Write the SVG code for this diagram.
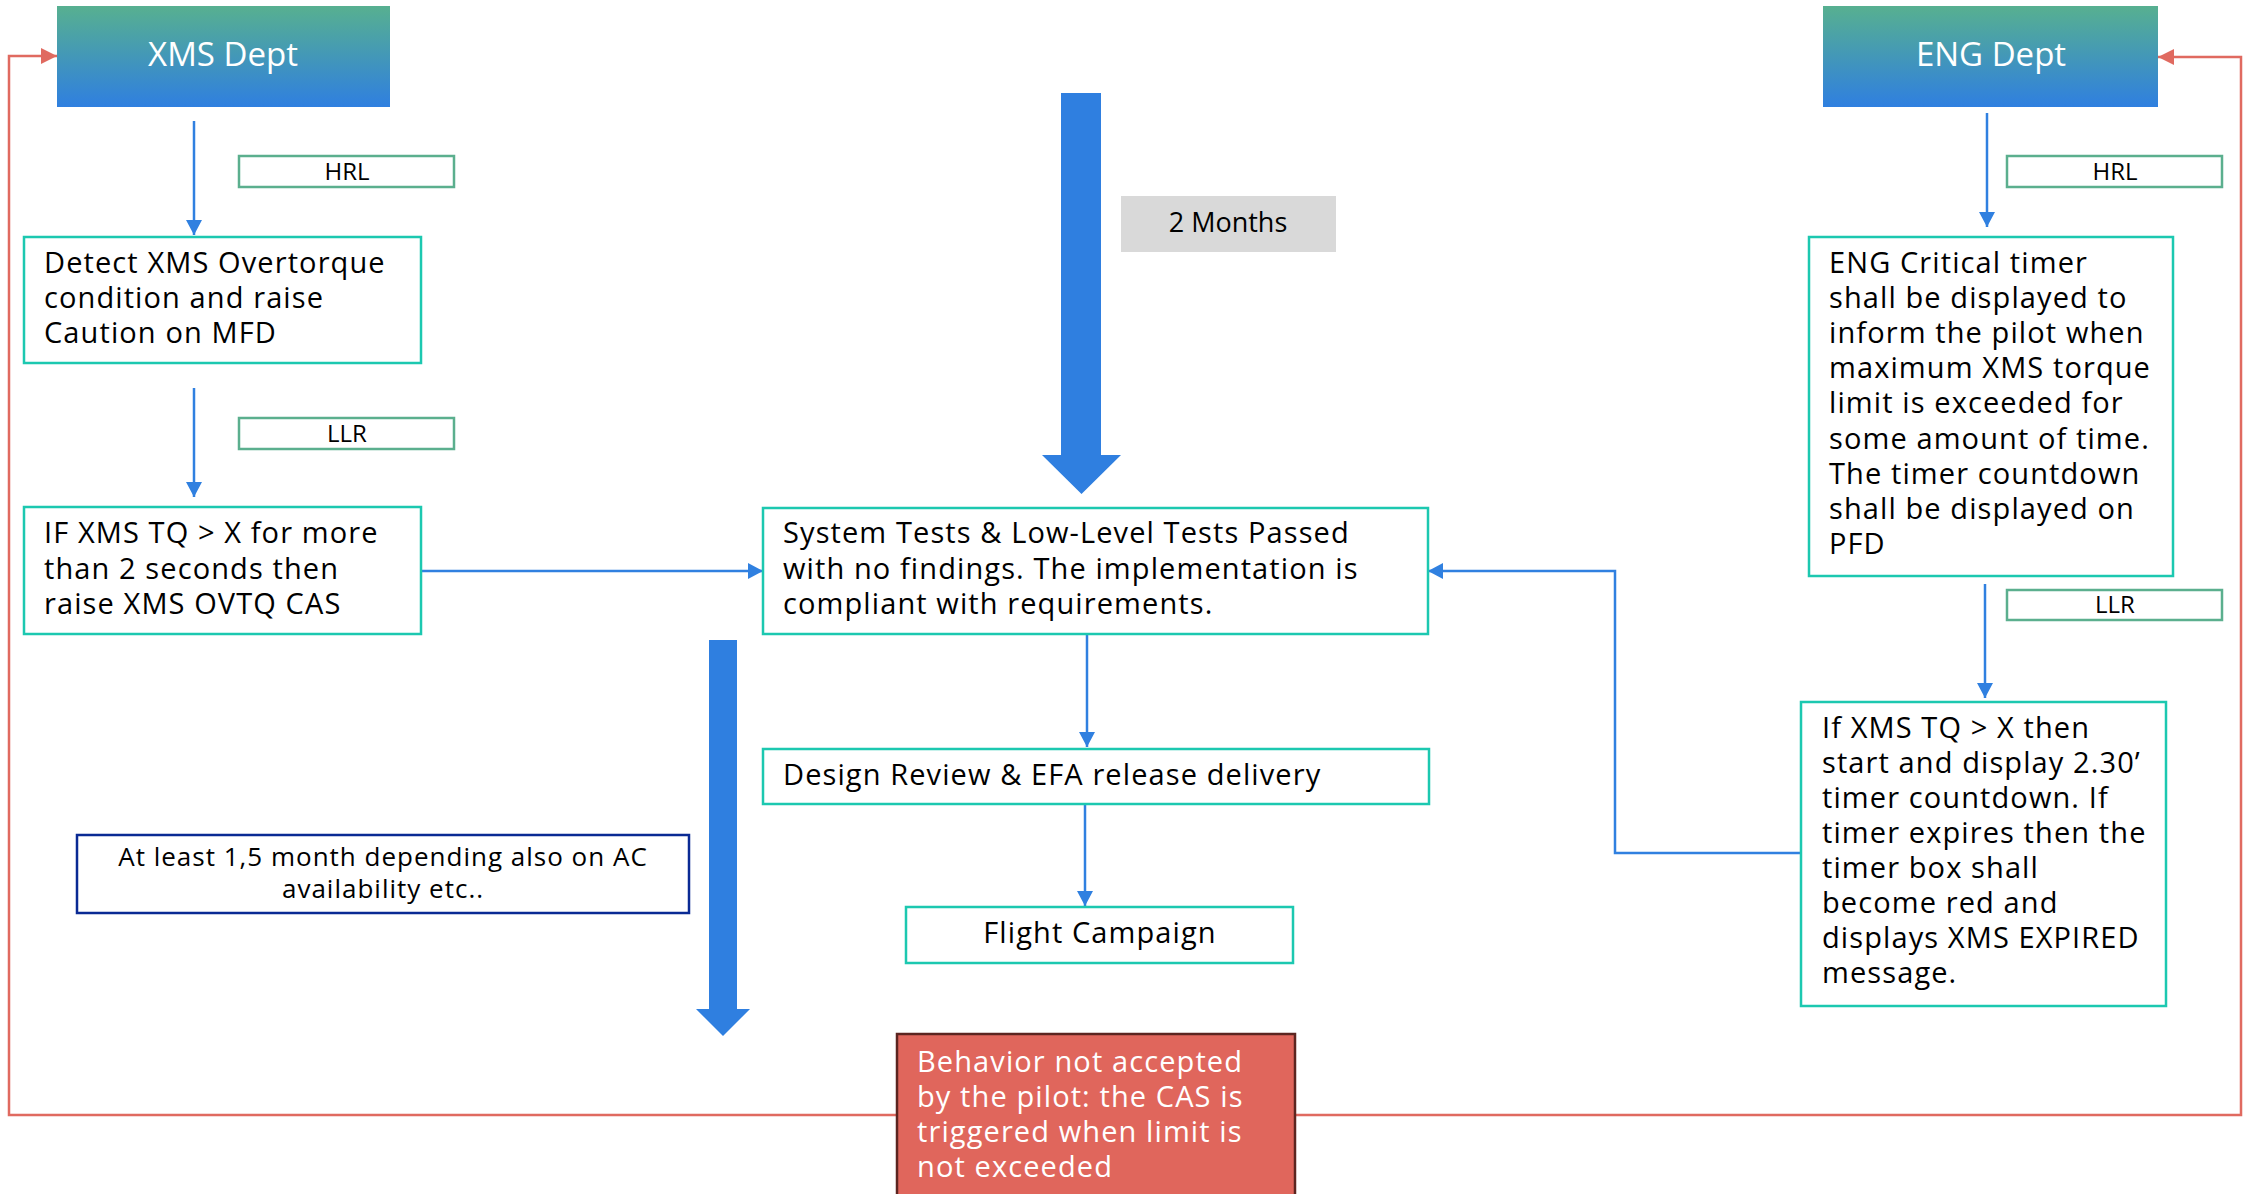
<svg xmlns="http://www.w3.org/2000/svg" width="2249" height="1194" viewBox="0 0 2249 1194">
<style>
.t{font-family:"Open Sans","Liberation Sans",sans-serif;font-size:29px;letter-spacing:1.1px;fill:#000}
.w{fill:#fff}
.c{text-anchor:middle}
.lab{font-size:24px;letter-spacing:0}
.note{font-size:26px;letter-spacing:1px}
.mo{font-size:27px;letter-spacing:0}
.hd{font-size:33px;letter-spacing:0}
.box{fill:#fff;stroke:#1CC8B0;stroke-width:2.5}
.tag{fill:#fff;stroke:#5BAF8E;stroke-width:2.5}
.blue{fill:none;stroke:#3080E0;stroke-width:2.5}
.red{fill:none;stroke:#E06A60;stroke-width:2.5}
</style>
<defs>
<linearGradient id="dept" x1="0" y1="0" x2="0" y2="1">
<stop offset="0" stop-color="#57B090"/>
<stop offset="1" stop-color="#2F7FE0"/>
</linearGradient>
<marker id="ab" markerUnits="userSpaceOnUse" markerWidth="16" markerHeight="16" refX="15" refY="8" orient="auto">
<path d="M0,0 L15,8 L0,16 Z" fill="#3080E0"/>
</marker>
<marker id="ar" markerUnits="userSpaceOnUse" markerWidth="17" markerHeight="16" refX="16" refY="8" orient="auto">
<path d="M0,0 L16,8 L0,16 Z" fill="#E06A60"/>
</marker>
</defs>
<rect width="2249" height="1194" fill="#fff"/>

<g id="connectors">
<path class="red" d="M897,1115 H9 V56 H57" marker-end="url(#ar)"/>
<path class="red" d="M1295,1115 H2241 V57 H2158" marker-end="url(#ar)"/>
<path class="blue" d="M194,121 V235" marker-end="url(#ab)"/>
<path class="blue" d="M194,388 V497" marker-end="url(#ab)"/>
<path class="blue" d="M421,571 H763" marker-end="url(#ab)"/>
<path class="blue" d="M1087,634 V747" marker-end="url(#ab)"/>
<path class="blue" d="M1085,804 V906" marker-end="url(#ab)"/>
<path class="blue" d="M1987,113 V227" marker-end="url(#ab)"/>
<path class="blue" d="M1985,584 V698" marker-end="url(#ab)"/>
<path class="blue" d="M1801,853 H1615 V571 H1428" marker-end="url(#ab)"/>
<path d="M1061,93 H1101 V455 H1121 L1081.5,494 L1042,455 H1061 Z" fill="#2F7FE0"/>
<path d="M709,640 H737 V1009 H750 L723,1036 L696,1009 H709 Z" fill="#2F7FE0"/>
</g>

<g id="xms-dept">
<rect x="57" y="6" width="333" height="101" fill="url(#dept)"/>
<text class="t w c hd" x="223" y="66">XMS Dept</text>
</g>
<g id="eng-dept">
<rect x="1823" y="6" width="335" height="101" fill="url(#dept)"/>
<text class="t w c hd" x="1991" y="66">ENG Dept</text>
</g>

<g id="hrl-left">
<rect class="tag" x="239" y="156" width="215" height="31"/>
<text class="t c lab" x="347" y="180">HRL</text>
</g>
<g id="llr-left">
<rect class="tag" x="239" y="418" width="215" height="31"/>
<text class="t c lab" x="347" y="442">LLR</text>
</g>
<g id="hrl-right">
<rect class="tag" x="2007" y="156" width="215" height="31"/>
<text class="t c lab" x="2115" y="180">HRL</text>
</g>
<g id="llr-right">
<rect class="tag" x="2007" y="590" width="215" height="30"/>
<text class="t c lab" x="2115" y="613">LLR</text>
</g>

<g id="detect">
<rect class="box" x="24" y="237" width="397" height="126"/>
<text class="t" x="44" y="273">Detect XMS Overtorque</text>
<text class="t" x="44" y="308">condition and raise</text>
<text class="t" x="44" y="343">Caution on MFD</text>
</g>

<g id="if-xms-cas">
<rect class="box" x="24" y="507" width="397" height="127"/>
<text class="t" x="44" y="543">IF XMS TQ &gt; X for more</text>
<text class="t" x="44" y="579">than 2 seconds then</text>
<text class="t" x="44" y="614">raise XMS OVTQ CAS</text>
</g>

<g id="two-months">
<rect x="1121" y="196" width="215" height="56" fill="#D9D9D9"/>
<text class="t c mo" x="1228" y="232">2 Months</text>
</g>

<g id="system-tests">
<rect class="box" x="763" y="508" width="665" height="126"/>
<text class="t" x="783" y="543">System Tests &amp; Low-Level Tests Passed</text>
<text class="t" x="783" y="579">with no findings. The implementation is</text>
<text class="t" x="783" y="614">compliant with requirements.</text>
</g>

<g id="design-review">
<rect class="box" x="763" y="749" width="666" height="55"/>
<text class="t" x="783" y="785">Design Review &amp; EFA release delivery</text>
</g>

<g id="flight-campaign">
<rect class="box" x="906" y="907" width="387" height="56"/>
<text class="t c" x="1100" y="943">Flight Campaign</text>
</g>

<g id="at-least">
<rect x="77" y="835" width="612" height="78" fill="#fff" stroke="#0A2A94" stroke-width="2.5"/>
<text class="t c note" x="383" y="866">At least 1,5 month depending also on AC</text>
<text class="t c note" x="383" y="898">availability etc..</text>
</g>

<g id="not-accepted">
<rect x="897" y="1034" width="398" height="175" fill="#E0665C" stroke="#5C2520" stroke-width="2.5"/>
<text class="t w" x="917" y="1072">Behavior not accepted</text>
<text class="t w" x="917" y="1107">by the pilot: the CAS is</text>
<text class="t w" x="917" y="1142">triggered when limit is</text>
<text class="t w" x="917" y="1177">not exceeded</text>
</g>

<g id="eng-critical">
<rect class="box" x="1809" y="237" width="364" height="339"/>
<text class="t" x="1829" y="273">ENG Critical timer</text>
<text class="t" x="1829" y="308">shall be displayed to</text>
<text class="t" x="1829" y="343">inform the pilot when</text>
<text class="t" x="1829" y="378">maximum XMS torque</text>
<text class="t" x="1829" y="413">limit is exceeded for</text>
<text class="t" x="1829" y="449">some amount of time.</text>
<text class="t" x="1829" y="484">The timer countdown</text>
<text class="t" x="1829" y="519">shall be displayed on</text>
<text class="t" x="1829" y="554">PFD</text>
</g>

<g id="if-xms-timer">
<rect class="box" x="1801" y="702" width="365" height="304"/>
<text class="t" x="1822" y="738">If XMS TQ &gt; X then</text>
<text class="t" x="1822" y="773">start and display 2.30’</text>
<text class="t" x="1822" y="808">timer countdown. If</text>
<text class="t" x="1822" y="843">timer expires then the</text>
<text class="t" x="1822" y="878">timer box shall</text>
<text class="t" x="1822" y="913">become red and</text>
<text class="t" x="1822" y="948">displays XMS EXPIRED</text>
<text class="t" x="1822" y="983">message.</text>
</g>
</svg>
